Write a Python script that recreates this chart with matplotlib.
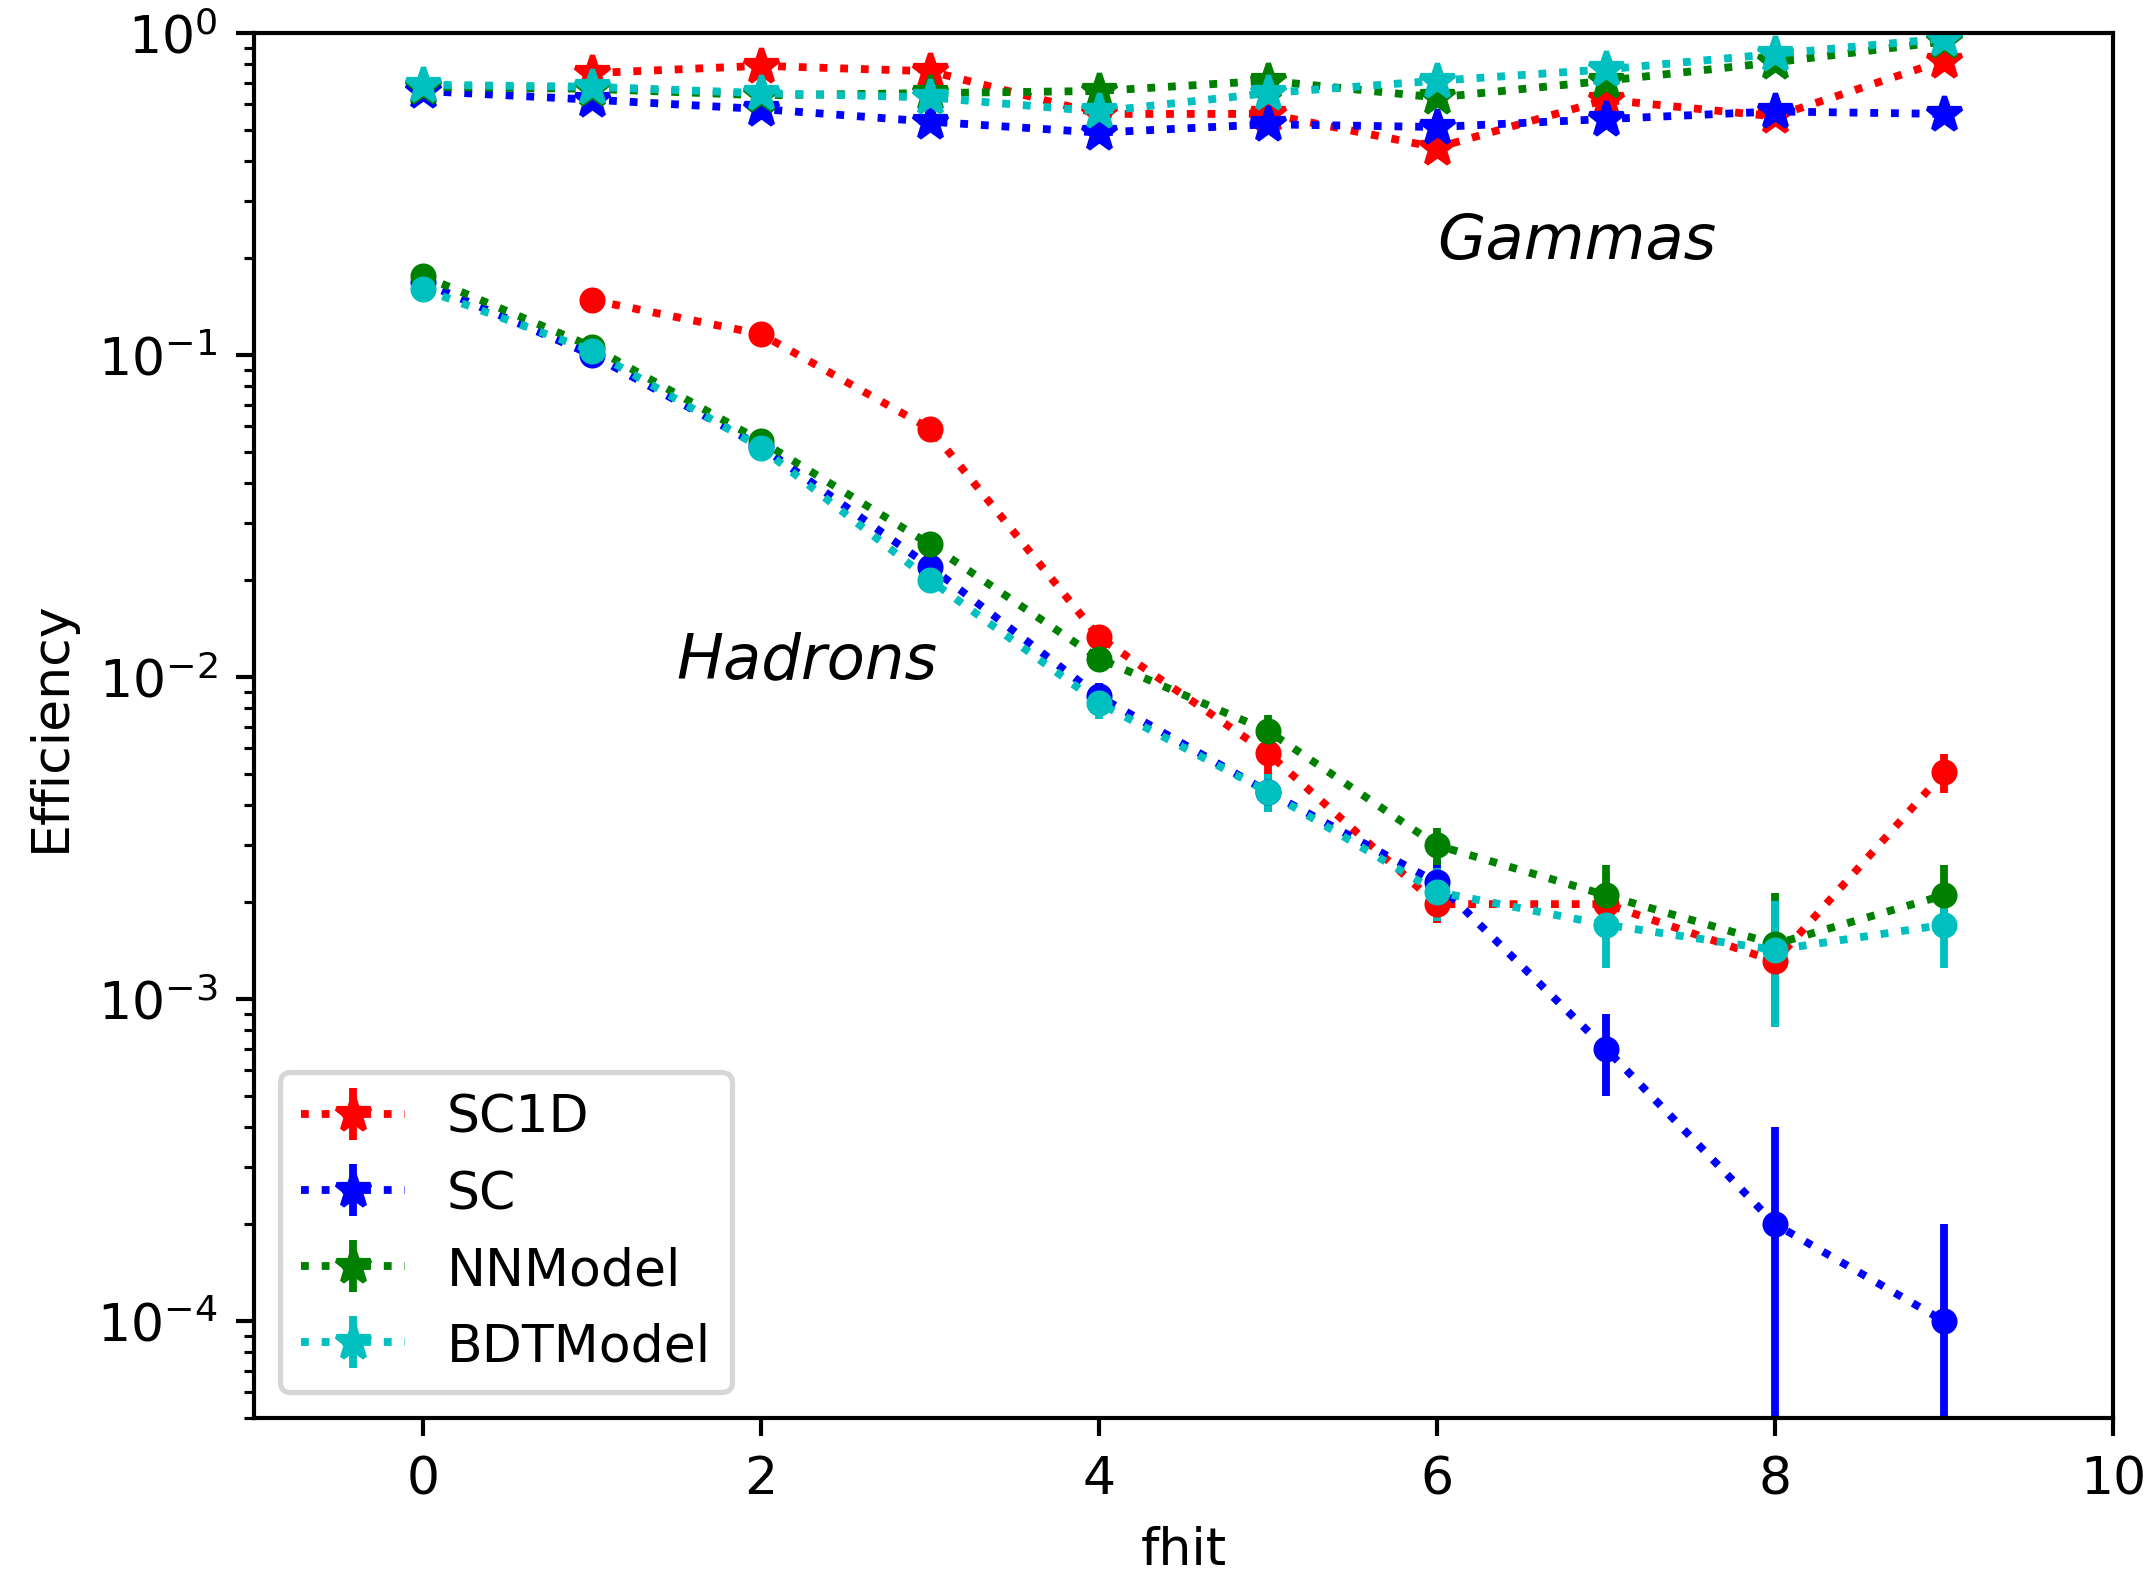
import numpy as np
import matplotlib
matplotlib.use("Agg")
import matplotlib.pyplot as plt

# fhit bins
fhit = [0, 1, 2, 3, 4, 5, 6, 7, 8, 9]

models = ["SC1D", "SC", "NNModel", "BDTModel"]
colors = ["r", "b", "g", "c"]

# hadron efficiency (background)
had_sc1d = [np.nan, 0.148, 0.116, 0.059, 0.0133, 0.0058, 0.00197, 0.00197, 0.00131, 0.00505]
had_sc = [0.168, 0.100, 0.052, 0.0220, 0.0087, 0.0044, 0.00230, 0.00070, 0.00020, 0.00010]
had_nn = [0.176, 0.106, 0.0540, 0.0258, 0.0114, 0.0068, 0.00300, 0.00210, 0.00148, 0.00210]
had_bdt = [0.160, 0.103, 0.0515, 0.0200, 0.0083, 0.0044, 0.00215, 0.00170, 0.00142, 0.00170]

had_sc1d_err = [np.nan, 0.004, 0.0035, 0.0025, 0.0012, 0.0008, 0.00025, 0.0003, 0.0003, 0.0007]
had_sc_err = [0.004, 0.003, 0.0023, 0.0015, 0.0009, 0.0006, 0.0004, 0.0002, 0.0002, 0.0001]
had_nn_err = [0.004, 0.003, 0.0023, 0.0016, 0.0010, 0.0008, 0.0004, 0.0005, 0.00065, 0.0005]
had_bdt_err = [0.004, 0.003, 0.0023, 0.0014, 0.0009, 0.0006, 0.0004, 0.00045, 0.0006, 0.00045]

# gamma efficiency (signal)
gam_sc1d = [np.nan, 0.75, 0.79, 0.76, 0.56, 0.56, 0.44, 0.62, 0.55, 0.82]
gam_sc = [0.66, 0.62, 0.58, 0.53, 0.49, 0.52, 0.51, 0.54, 0.57, 0.56]
gam_nn = [0.68, 0.67, 0.64, 0.65, 0.66, 0.71, 0.63, 0.71, 0.81, 0.94]
gam_bdt = [0.69, 0.68, 0.65, 0.63, 0.57, 0.65, 0.71, 0.77, 0.86, 0.96]

gam_sc1d_err = [np.nan, 0.01, 0.01, 0.01, 0.01, 0.01, 0.01, 0.01, 0.01, 0.01]
gam_sc_err = [0.01, 0.01, 0.01, 0.01, 0.01, 0.01, 0.01, 0.01, 0.01, 0.01]
gam_nn_err = [0.01, 0.01, 0.01, 0.01, 0.01, 0.01, 0.01, 0.01, 0.01, 0.01]
gam_bdt_err = [0.01, 0.01, 0.01, 0.01, 0.01, 0.01, 0.01, 0.01, 0.01, 0.01]

hadrons = [had_sc1d, had_sc, had_nn, had_bdt]
hadrons_err = [had_sc1d_err, had_sc_err, had_nn_err, had_bdt_err]
gammas = [gam_sc1d, gam_sc, gam_nn, gam_bdt]
gammas_err = [gam_sc1d_err, gam_sc_err, gam_nn_err, gam_bdt_err]

fig = plt.figure(figsize=(2156 / 375, 1574 / 375), dpi=375)
ax = fig.add_axes([0.1178, 0.0985, 0.8622, 0.880])
ax.set_yscale("log")

for name, col, h, he, g, ge in zip(models, colors, hadrons, hadrons_err, gammas, gammas_err):
    ax.errorbar(fhit, h, yerr=he, fmt=col + "o:", markersize=4)
    ax.errorbar(fhit, g, yerr=ge, fmt=col + "*:", markersize=7, label=name)

ax.text(6, 0.2, "Gammas", fontsize=12, style="italic")
ax.text(1.5, 0.01, "Hadrons", fontsize=12, style="italic")

ax.set_xlim(-1, 10)
ax.set_ylim(5e-5, 1)
ax.set_xticks([0, 2, 4, 6, 8, 10])
ax.set_xlabel("fhit")
ax.set_ylabel("Efficiency")
ax.legend(loc="lower left")

fig.savefig("out.png", dpi=375)
